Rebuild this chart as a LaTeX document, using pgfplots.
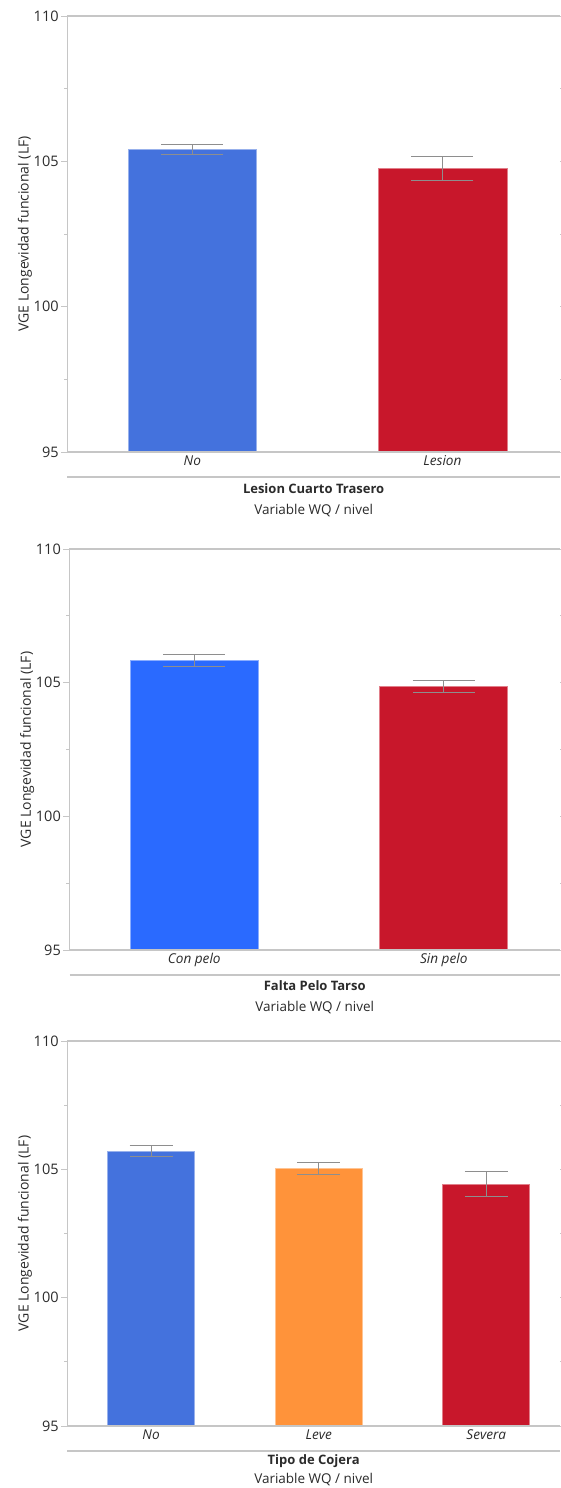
\documentclass[border=0pt]{standalone}
\usepackage{pgfplots}
\pgfplotsset{compat=1.18}
\usepackage{fontspec}
\setmainfont{Open Sans}

\definecolor{barblue}{HTML}{4472DD}
\definecolor{brightblue}{HTML}{2A6AFF}
\definecolor{barred}{HTML}{C8172B}
\definecolor{barorange}{HTML}{FF933A}
\definecolor{axisgray}{HTML}{C6C6C6}
\definecolor{errgray}{HTML}{8E8E8E}
\definecolor{txt}{HTML}{2B2B2B}

\pgfplotsset{
  meanbars/.style={
    scale only axis,
    ymin=95, ymax=110,
    axis line style={draw=none},
    ytick={95,100,105,110},
    minor ytick={97.5,102.5,107.5},
    tick align=outside,
    major tick length=6pt,
    minor tick length=3pt,
    ytick style={draw=axisgray, line width=0.9pt},
    minor tick style={draw=axisgray, line width=0.9pt},
    xtick style={draw=none},
    /pgf/number format/assume math mode=true,
    yticklabel style={font=\fontsize{14.5}{16}\selectfont, text=txt, inner sep=2.5pt},
    xticklabel style={font=\fontsize{13.6}{15}\selectfont\itshape, text=txt, yshift=6pt},
    ylabel={VGE Longevidad funcional (LF)},
    ylabel style={at={(axis description cs:-0.086,0.5)}, anchor=center,
                  font=\fontsize{14}{16}\selectfont, text=txt},
    xlabel style={at={(axis description cs:0.5,0)}, anchor=north,
                  align=center, text=txt},
    ybar,
    error bars/y dir=both,
    error bars/y explicit,
    error bars/error bar style={draw=errgray, line width=1pt},
    clip=true,
  },
  bar/.style={fill=#1, draw=#1!55!white, line width=0.7pt, bar shift=0pt},
}

\begin{document}
\begin{tikzpicture}
\path[use as bounding box] (0pt,0pt) rectangle (560pt,-1488pt);

% --- Lesion Cuarto Trasero ---
\begin{axis}[meanbars, name=p1,
  at={(67.3pt,-452pt)}, anchor=south west,
  width=492.7pt, height=436pt,
  xmin=-0.5, xmax=1.47,
  xtick={0,1}, xticklabels={No, Lesion},
  bar width=0.515,
  error bars/error mark options={draw=errgray, line width=1pt, mark size=31pt, rotate=90},
  xlabel style={yshift=-28pt, font=\fontsize{13.5}{21}\selectfont},
  xlabel={{\fontsize{13}{21}\selectfont\bfseries Lesion Cuarto Trasero}\\Variable WQ / nivel},
]
\addplot[bar=barblue] coordinates {(0,105.41) +- (0,0.165)};
\addplot[bar=barred]  coordinates {(1,104.75) +- (0,0.40)};
\end{axis}
\draw[axisgray, line width=1.2pt] (p1.south east) -- (p1.south west) -- (p1.north west) -- (p1.north east);
\draw[axisgray, line width=1.2pt] ([yshift=-25pt]p1.south west) -- ([yshift=-25pt]p1.south east);

% --- Falta Pelo Tarso ---
\begin{axis}[meanbars, name=p2,
  at={(69.5pt,-950pt)}, anchor=south west,
  width=490.5pt, height=401pt,
  xmin=-0.5, xmax=1.466,
  xtick={0,1}, xticklabels={Con pelo, Sin pelo},
  bar width=0.513,
  error bars/error mark options={draw=errgray, line width=1pt, mark size=31pt, rotate=90},
  xlabel style={yshift=-27pt, font=\fontsize{13.5}{21}\selectfont},
  xlabel={{\fontsize{13}{21}\selectfont\bfseries Falta Pelo Tarso}\\Variable WQ / nivel},
]
\addplot[bar=brightblue] coordinates {(0,105.83) +- (0,0.24)};
\addplot[bar=barred]     coordinates {(1,104.87) +- (0,0.22)};
\end{axis}
\draw[axisgray, line width=1.2pt] (p2.south east) -- (p2.south west) -- (p2.north west) -- (p2.north east);
\draw[axisgray, line width=1.2pt] ([yshift=-25pt]p2.south west) -- ([yshift=-25pt]p2.south east);

% --- Tipo de Cojera ---
\begin{axis}[meanbars, name=p3,
  at={(67.3pt,-1426pt)}, anchor=south west,
  width=492.7pt, height=385pt,
  xmin=-0.5, xmax=2.44,
  xtick={0,1,2}, xticklabels={No, Leve, Severa},
  bar width=0.52,
  error bars/error mark options={draw=errgray, line width=1pt, mark size=21.5pt, rotate=90},
  xlabel style={yshift=-25pt, font=\fontsize{13.5}{19.5}\selectfont},
  xlabel={{\fontsize{13}{19.5}\selectfont\bfseries Tipo de Cojera}\\Variable WQ / nivel},
]
\addplot[bar=barblue]   coordinates {(0,105.72) +- (0,0.20)};
\addplot[bar=barorange] coordinates {(1,105.04) +- (0,0.234)};
\addplot[bar=barred]    coordinates {(2,104.42) +- (0,0.487)};
\end{axis}
\draw[axisgray, line width=1.2pt] (p3.south east) -- (p3.south west) -- (p3.north west) -- (p3.north east);
\draw[axisgray, line width=1.2pt] ([yshift=-25pt]p3.south west) -- ([yshift=-25pt]p3.south east);
\end{tikzpicture}
\end{document}
